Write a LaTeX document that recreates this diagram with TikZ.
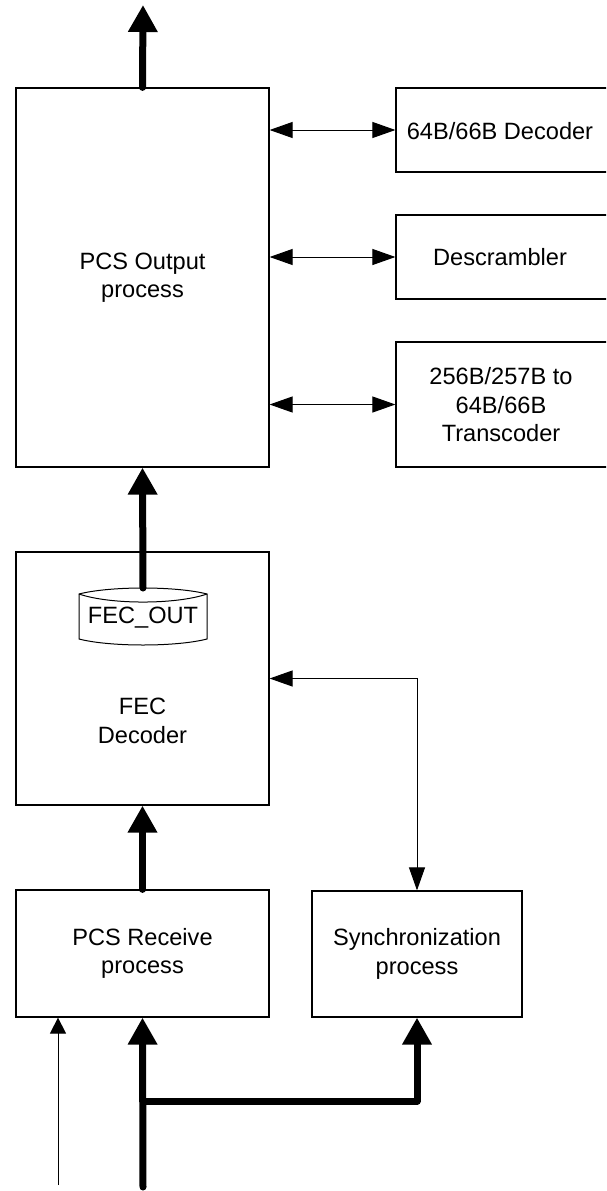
\documentclass[tikz,border=0pt]{standalone}
\usepackage{fontspec}
\setmainfont{Liberation Sans}
\usetikzlibrary{arrows.meta}
\tikzset{
  box/.style={draw=black, line width=1.2pt, inner sep=0pt, align=center, font=\fontsize{23.6}{28.5}\selectfont},
  txt/.style={inner sep=0pt, align=center, font=\fontsize{23.6}{28.5}\selectfont},
  bus/.style={line width=7pt, line cap=round, line join=round, -{Triangle[length=27pt,width=28pt]}},
  sigboth/.style={line width=1pt, {Triangle[length=23pt,width=16pt]}-{Triangle[length=23pt,width=16pt]}},
  sigsmall/.style={line width=1pt, -{Triangle[length=16pt,width=16pt]}}
}
\begin{document}
\begin{tikzpicture}[x=1pt,y=-1pt]
\clip (0,0) rectangle (606,1191);
\fill[white] (0,0) rectangle (606,1191);
% boxes
\node[box, minimum width=253pt, minimum height=379pt] (pcsout) at (142.5,277.5) {PCS Output\\process};
\node[box, minimum width=224pt, minimum height=84pt] (dec) at (508,130) {};
\node[txt] (dectxt) at (500,131) {64B/66B Decoder};
\node[box, minimum width=224pt, minimum height=84pt] (desc) at (508,257) {};
\node[txt] (desctxt) at (500,257) {Descrambler};
\node[box, minimum width=224pt, minimum height=125pt] (trans) at (508,404.5) {};
\node[txt] (transtxt) at (501,405) {256B/257B to\\64B/66B\\Transcoder};
\node[box, minimum width=253pt, minimum height=253pt] (fec) at (142.5,678.5) {};
\node[txt] (fectxt) at (142.5,721) {FEC\\Decoder};
\node[box, minimum width=253pt, minimum height=127pt] (rx) at (142.5,953.5) {PCS Receive\\process};
\node[box, minimum width=210pt, minimum height=126pt] (sync) at (417,954) {Synchronization\\process};
% FEC_OUT shape
\draw[line width=1pt, fill=white] (79,594) .. controls (110,586) and (176,586) .. (207,594)
  -- (207,639) .. controls (176,647) and (110,647) .. (79,639) -- cycle;
\draw[line width=1pt] (79,594) .. controls (110,604.7) and (176,604.7) .. (207,594);
\node[txt] (fecout) at (143,618) {FEC\_OUT};
\coordinate (fecouttop) at (143,588);
% coordinates
\coordinate (out) at (143,5);
\coordinate (in) at (143,1187);
\coordinate (br) at (143,1101);
\coordinate (in2) at (58,1185);
% connectors
\draw[bus] (pcsout.north) -- (out);
\draw[bus] (fecouttop) -- (pcsout.south);
\draw[bus] (rx.north) -- (fec.south);
\draw[bus] (in) -- (rx.south);
\draw[bus] (br) -| (sync.south);
\draw[sigboth] (pcsout.east |- dec.west) -- (dec.west);
\draw[sigboth] (pcsout.east |- desc.west) -- (desc.west);
\draw[sigboth] (pcsout.east |- trans.west) -- (trans.west);
\draw[sigboth] (fec.east) -| (sync.north);
\draw[sigsmall] (in2) -- (in2 |- rx.south);
\end{tikzpicture}
\end{document}
